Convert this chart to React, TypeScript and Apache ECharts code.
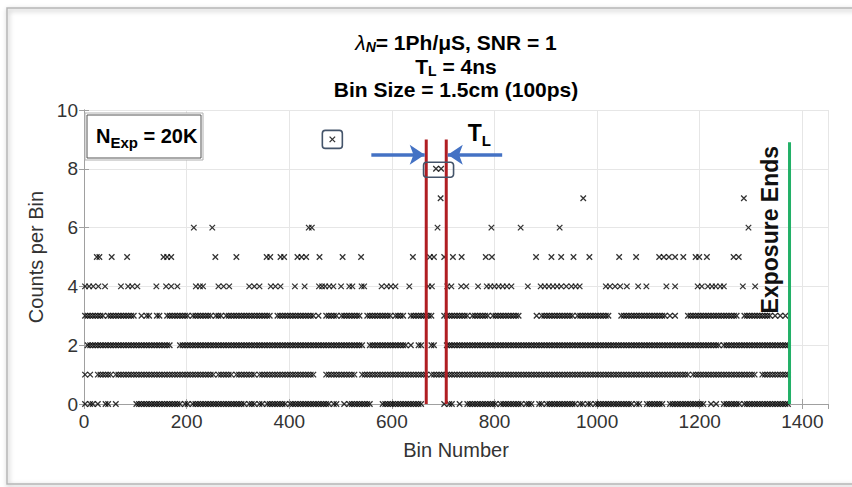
import React, { useEffect, useRef } from "react";
import * as echarts from "echarts";

// ---- axis ranges / ticks ----
const X_MIN = 0;
const X_MAX = 1450;
const X_INTERVAL = 200;
const Y_MIN = 0;
const Y_MAX = 10;
const Y_INTERVAL = 2;

// ---- dense levels (0..3): occupancy.
// Each group = 50 bins, each char = 5 bins ('x' = marker(s) seen there).
const level0Mask =
  "x.xx.x..xx ..x....... xxxxxxxxxx xxxxxxxx.x " +
  "x.xxxxxxxx xxxxxxxxxx xxx.xxx.xx .xxxxxxxx. " +
  "xxxxxxxxxx xxxxxx.xx. .x.xxxxxxx xx....xxxx " +
  "xxxxxxxxxx xx........ x.xx..x..x xxxxxxxxxx " +
  "x.xxxxxxxx x.xxx..xx. xxxxxxxxxx xx.xx.xx.x " +
  "xxxxxxxxxx xxxx.xx..x xxxxxx..xx xxxxxxxxxx " +
  "xx..x.x..x xxxxxx.xxx xxxxxxxxxx xxxxx.....";
const level1Mask =
  "x.x..xxxxx x.xxxxxxxx xxxxxxxxxx xxxxxxxxxx " +
  "xxxxxxxxxx x.xxxxxx.x xxxxxxx.xx xxxxxxxxxx " +
  "xxxxxxxxxx ....xxxxxx xxxxxx..xx xxxxxxxxxx " +
  "xxxxxxxxxx xxxx.xxxxx xxxxxxxxxx xxxxxxxxxx " +
  "xxxxxxxxxx xxxxxxxxxx xxxxxxxxxx xxxxxxxxxx " +
  "xxxxxxxxxx xxxxxxxxxx xxxxxxxxxx xxxxxx.xxx " +
  "xxxxxxxxxx xxxxxxxxxx xx..xxxxxx xxxxx.....";
const level2Mask =
  ".xxxxxxxxx xxxxxxxxxx xxxxxxxxxx xxxx...xxx " +
  "xxxxxxxxxx xxxxxxxxxx xxxxxxxxxx xxxxxxxxxx " +
  "xxxxxxxxxx xxxxxxxxxx xxxxxxxxx. .xxxxxxxxx " +
  "xxxxxx.x.. xx...xx... .xxxxxxxxx xxxxxxxxxx " +
  "xxxxxxxxxx xxxxxxxxxx xxxxxxxxxx xxxxxxxxxx " +
  "xxxxxxxxxx xxxxxxxxxx xxxxxxxxxx xxxxxxxxxx " +
  "xxxxxxxx.x xxxxxxxxxx xxxxxxxxxx xxxxx.....";
const level3Mask =
  "xxxxxxxx.x xxxxxxxxxx ..x.xx..xx ..xxxxxxxx " +
  "x.xxxxxxxx .xxx.xxxxx xxxxxxxxxx xxx..xxxxx " +
  "xxxxxxxxxx .x..xxxxx. xxxxxxxx.. xxxxxxxxxx " +
  ".xxxx..xxx xxxxxx.... xxxxxxxxxx .xxxxxxx.x " +
  "xxxxxxxxxx ......x.xx xxxxxxxxxx x.xxxxxxxx " +
  "xxxxx....x xxxxxxxxxx xxxxxxx.x. x....xxxxx " +
  "xxxxxxxxxx xxxxx..xxx xxxxxxxx.x .x.x......";

// ---- sparse levels: bin numbers of individual markers ----
const level4Bins = [2, 10, 18, 28, 41, 72, 86, 94, 104, 141, 160, 170, 182, 218, 226, 232, 262, 272, 283, 322, 332, 342, 364, 373, 383, 411, 430, 458, 464, 470, 478, 486, 501, 517, 523, 541, 546, 580, 590, 598, 607, 634, 671, 678, 708, 716, 735, 745, 768, 785, 792, 800, 808, 816, 824, 833, 865, 890, 898, 906, 914, 922, 930, 940, 950, 958, 966, 1017, 1025, 1035, 1045, 1058, 1080, 1096, 1135, 1152, 1196, 1204, 1216, 1224, 1231, 1240, 1247, 1284, 1308];
const level5Bins = [25, 30, 54, 84, 155, 162, 170, 256, 297, 356, 363, 383, 390, 416, 424, 433, 459, 504, 540, 641, 674, 682, 702, 719, 736, 783, 795, 881, 911, 930, 954, 985, 1043, 1076, 1121, 1130, 1140, 1152, 1168, 1192, 1199, 1214, 1266, 1276];
const level6Bins = [214, 250, 438, 444, 689, 794, 851, 927, 1295];
const level7Bins = [695, 973, 1286];
const level8Bins = [686, 696];
const level9Bins = [484];

// ---- annotations (data coordinates) ----
const tlBounds = [667, 706];
const tlTop = 9;
const exposureEndBin = 1375;
const exposureTop = 8.9;
const arrowY = 8.48;
const leftArrow = [560, 664];
const rightArrow = [815, 709];

const titleLine1 = "{i|λ}{si|N}{b|= 1Ph/μS, SNR = 1}";
const titleLine2 = "{b|T}{s|L}{b| = 4ns}";
const titleLine3 = "{b|Bin Size = 1.5cm (100ps)}";

const FONT = "'Liberation Sans', Arial, Helvetica, sans-serif";

function maskToPoints(mask: string, level: number): number[][] {
  const pts: number[][] = [];
  mask
    .trim()
    .split(/\s+/)
    .forEach((g, gi) => {
      for (let s = 0; s < g.length; s++) {
        if (g[s] === "x") pts.push([gi * 50 + s * 5 + 2, level]);
      }
    });
  return pts;
}

function binsToPoints(bins: number[], level: number): number[][] {
  return bins.map((b) => [b, level]);
}

export default function App() {
  const ref = useRef<HTMLDivElement>(null);
  useEffect(() => {
    const chart = echarts.init(ref.current!, null, { renderer: "svg" });
    const points = [
      ...maskToPoints(level0Mask, 0),
      ...maskToPoints(level1Mask, 1),
      ...maskToPoints(level2Mask, 2),
      ...maskToPoints(level3Mask, 3),
      ...binsToPoints(level4Bins, 4),
      ...binsToPoints(level5Bins, 5),
      ...binsToPoints(level6Bins, 6),
      ...binsToPoints(level7Bins, 7),
      ...binsToPoints(level8Bins, 8),
      ...binsToPoints(level9Bins, 9),
    ];
    const axisColor = "#a0a0a0";
    const labelColor = "#333333";
    chart.setOption({
      animation: false,
      backgroundColor: "#ffffff",
      grid: { left: 84, right: 24, top: 110, bottom: 83 },
      xAxis: [
        {
          type: "value",
          min: X_MIN,
          max: X_MAX,
          interval: X_INTERVAL,
          name: "Bin Number",
          nameLocation: "middle",
          nameGap: 36,
          nameTextStyle: { fontSize: 20, color: labelColor, fontFamily: FONT },
          axisLine: { show: true, lineStyle: { color: axisColor } },
          axisTick: { show: true, inside: true, length: 5, lineStyle: { color: axisColor } },
          axisLabel: {
            color: labelColor,
            fontSize: 19,
            fontFamily: FONT,
            margin: 8,
            showMaxLabel: false,
            formatter: (v: number) => String(v),
          },
          splitLine: { show: true, lineStyle: { color: "#e6e6e6" } },
        },
        {
          type: "value",
          position: "top",
          min: X_MIN,
          max: X_MAX,
          interval: X_INTERVAL,
          axisLine: { show: true, lineStyle: { color: axisColor } },
          axisTick: { show: true, inside: true, length: 5, lineStyle: { color: axisColor } },
          axisLabel: { show: false },
          splitLine: { show: false },
        },
      ],
      yAxis: [
        {
          type: "value",
          min: Y_MIN,
          max: Y_MAX,
          interval: Y_INTERVAL,
          name: "Counts per Bin",
          nameLocation: "middle",
          nameGap: 32,
          nameTextStyle: { fontSize: 20, color: labelColor, fontFamily: FONT },
          axisLine: { show: true, lineStyle: { color: axisColor } },
          axisTick: { show: true, inside: true, length: 5, lineStyle: { color: axisColor } },
          axisLabel: { color: labelColor, fontSize: 19, fontFamily: FONT, margin: 6 },
          splitLine: { show: true, lineStyle: { color: "#e6e6e6" } },
        },
        {
          type: "value",
          position: "right",
          min: Y_MIN,
          max: Y_MAX,
          interval: Y_INTERVAL,
          axisLine: { show: true, lineStyle: { color: axisColor } },
          axisTick: { show: true, inside: true, length: 5, lineStyle: { color: axisColor } },
          axisLabel: { show: false },
          splitLine: { show: false },
        },
      ],
      series: [
        {
          type: "scatter",
          xAxisIndex: 0,
          yAxisIndex: 0,
          data: points,
          symbol: "path://M0,0L10,10M10,0L0,10",
          symbolSize: 5.5,
          itemStyle: { color: "transparent", borderColor: "#000000", borderWidth: 1.3 },
          z: 3,
        },
        ...tlBounds.map((b) => ({
          type: "line",
          data: [
            [b, 0],
            [b, tlTop],
          ],
          showSymbol: false,
          symbol: "none",
          lineStyle: { color: "#b01e23", width: 3 },
          z: 4,
        })),
        {
          type: "line",
          data: [
            [exposureEndBin, 0],
            [exposureEndBin, exposureTop],
          ],
          showSymbol: false,
          symbol: "none",
          lineStyle: { color: "#22b067", width: 3 },
          z: 4,
        },
        {
          type: "lines",
          coordinateSystem: "cartesian2d",
          symbol: ["none", "arrow"],
          symbolSize: 15,
          lineStyle: { color: "#4472c4", width: 3.5, opacity: 1 },
          data: [
            { coords: [[leftArrow[0], arrowY], [leftArrow[1], arrowY]] },
            { coords: [[rightArrow[0], arrowY], [rightArrow[1], arrowY]] },
          ],
          z: 5,
        },
      ],
    });

    const p = (x: number, y: number) => chart.convertToPixel({ gridIndex: 0 }, [x, y]) as number[];
    const box1 = p(level9Bins[0], 9);
    const box2 = p((level8Bins[0] + level8Bins[1]) / 2, 7.95);
    const tl = p(748, 9.6);
    const ex = p(1336, 5.93);

    const sub = (size: number, lh: number) => ({
      fontSize: size,
      fontWeight: "bold",
      fontFamily: FONT,
      fill: "#000",
      lineHeight: lh,
      verticalAlign: "bottom",
    });
    const titleRich = {
      b: { fontSize: 21, fontWeight: "bold", fontFamily: FONT, fill: "#000", lineHeight: 22, verticalAlign: "top" },
      i: { fontSize: 21, fontStyle: "italic", fontFamily: FONT, fill: "#000", lineHeight: 22, verticalAlign: "top" },
      si: { ...sub(14, 12), fontStyle: "italic" },
      s: sub(14, 12),
    };
    const titleText = (text: string, cy: number) => ({
      type: "text",
      x: 456,
      y: cy,
      z: 100,
      style: { text, align: "center", verticalAlign: "middle", rich: titleRich },
    });

    chart.setOption({
      graphic: [
        {
          type: "rect",
          z: 100,
          silent: true,
          shape: { x: 7, y: 8, width: 900, height: 476 },
          style: {
            fill: "none",
            stroke: "#b5b5b5",
            lineWidth: 1.5,
            shadowBlur: 5,
            shadowColor: "rgba(0,0,0,0.35)",
            shadowOffsetX: 1,
            shadowOffsetY: 2,
          },
        },
        titleText(titleLine1, 43),
        titleText(titleLine2, 66.5),
        titleText(titleLine3, 90),
        {
          type: "rect",
          z: 100,
          shape: { x: 85, y: 113, width: 118, height: 47 },
          style: { fill: "#fff", stroke: "#b0b0b0", lineWidth: 1 },
        },
        {
          type: "rect",
          z: 100,
          shape: { x: 87, y: 115, width: 114, height: 43 },
          style: { fill: "#fff", stroke: "#555", lineWidth: 1 },
        },
        {
          type: "text",
          x: 96,
          y: 126,
          z: 101,
          style: {
            text: "{b|N}{s|Exp}{b| = 20K}",
            align: "left",
            verticalAlign: "top",
            rich: {
              b: { fontSize: 20, fontWeight: "bold", fontFamily: FONT, fill: "#000", lineHeight: 24, verticalAlign: "top" },
              s: sub(15, 6),
            },
          },
        },
        {
          type: "rect",
          z: 100,
          shape: { x: box1[0] - 10, y: box1[1] - 9, width: 20, height: 18, r: 3 },
          style: { fill: "none", stroke: "#44546a", lineWidth: 1.6 },
        },
        {
          type: "rect",
          z: 100,
          shape: { x: box2[0] - 15, y: box2[1] - 8, width: 30, height: 15, r: 3 },
          style: { fill: "none", stroke: "#44546a", lineWidth: 1.6 },
        },
        {
          type: "text",
          x: tl[0],
          y: tl[1],
          z: 101,
          style: {
            text: "{t|T}{s|L}",
            align: "left",
            verticalAlign: "top",
            rich: {
              t: { fontSize: 23, fontWeight: "bold", fontFamily: FONT, fill: "#000", lineHeight: 26, verticalAlign: "top" },
              s: sub(15, 6),
            },
          },
        },
        {
          type: "text",
          x: ex[0],
          y: ex[1],
          rotation: Math.PI / 2,
          z: 101,
          style: {
            text: "Exposure Ends",
            fontSize: 23,
            fontWeight: "bold",
            fontFamily: FONT,
            fill: "#111",
            align: "center",
            verticalAlign: "middle",
          },
        },
      ],
    });
    return () => chart.dispose();
  }, []);
  return (
    <div
      ref={ref}
      style={{ position: "fixed", left: 0, top: 0, width: 852, height: 487 }}
    />
  );
}
